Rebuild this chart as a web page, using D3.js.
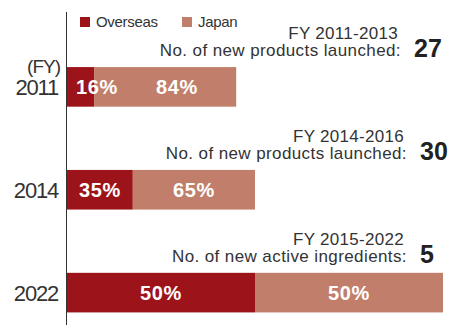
<!DOCTYPE html>
<html>
<head>
<meta charset="utf-8">
<script src="https://cdn.jsdelivr.net/npm/d3@7"></script>
<style>
  html, body { margin: 0; padding: 0; background: #fff; }
  svg { display: block; font-family: "Liberation Sans", Arial, Helvetica, sans-serif; }
</style>
</head>
<body>
<div id="chart"></div>
<script>
// Fiscal years shown as rows
const years = ["2011", "2014", "2022"];
// Share of new launches, percent
const overseasShare = [16, 35, 50];
const japanShare = [84, 65, 50];
// Relative bar length of each row
const barLength = [27, 30, 60];
// Annotation for each row
const periodLabels = ["FY 2011-2013", "FY 2014-2016", "FY 2015-2022"];
const countLabels = ["No. of new products launched:", "No. of new products launched:", "No. of new active ingredients:"];
const counts = [27, 30, 5];
const seriesNames = ["Overseas", "Japan"];

const W = 456, H = 325;
const colors = { Overseas: "#9c141a", Japan: "#c17f6b" };
const textColor = "#333";

const svg = d3.select("#chart").append("svg")
  .attr("width", W).attr("height", H);

const x = d3.scaleLinear().domain([0, 60]).range([67, 443]);
const y = d3.scaleBand().domain(years).range([46.5, 333]).paddingInner(0.615).paddingOuter(0.2);

const rows = years.map((yr, i) => ({
  year: yr,
  overseas: overseasShare[i],
  japan: japanShare[i],
  len: barLength[i],
  period: periodLabels[i],
  countLabel: countLabels[i],
  count: counts[i]
}));

// Stacked segments
const segs = [];
rows.forEach(r => {
  const x0 = x(0), total = x(r.len) - x(0);
  const xo = x0 + total * r.overseas / 100;
  segs.push({ row: r, key: "Overseas", v: r.overseas, a: x0, b: xo });
  segs.push({ row: r, key: "Japan", v: r.japan, a: xo, b: x0 + total });
});

svg.append("g").selectAll("rect").data(segs).join("rect")
  .attr("x", d => d.a)
  .attr("y", d => y(d.row.year))
  .attr("width", d => d.b - d.a)
  .attr("height", y.bandwidth())
  .attr("fill", d => colors[d.key]);

// Percent labels inside the bars
const labelG = svg.append("g")
  .attr("font-weight", "bold").attr("font-size", 20).attr("letter-spacing", 0.6)
  .attr("fill", "#fff");
rows.forEach(r => {
  const s = segs.filter(d => d.row === r);
  const o = s[0], j = s[1];
  const cy = y(r.year) + y.bandwidth() / 2 + 7.5;
  const narrow = (o.b - o.a) < 50;
  const oText = labelG.append("text")
    .attr("y", cy).text(o.v + "%");
  let oRight;
  if (narrow) {
    oText.attr("x", o.a + 9).attr("text-anchor", "start");
    oRight = o.a + 9 + oText.node().getComputedTextLength();
  } else {
    oText.attr("x", (o.a + o.b) / 2).attr("text-anchor", "middle");
    oRight = o.b;
  }
  const jStart = Math.max(j.a, oRight);
  labelG.append("text")
    .attr("x", (jStart + j.b) / 2).attr("y", cy)
    .attr("text-anchor", "middle").text(j.v + "%");
});

// Year axis on the left
const axis = svg.append("g").attr("transform", `translate(${x(0)},0)`)
  .call(d3.axisLeft(y).tickSize(0).tickPadding(9));
axis.select(".domain").remove();
axis.selectAll("text")
  .attr("font-size", 22).attr("fill", textColor)
  .attr("font-family", "Liberation Sans, Arial, sans-serif")
  .attr("letter-spacing", -1.2)
  .attr("dy", "0.36em");
svg.append("line")
  .attr("x1", x(0) - 0.5).attr("x2", x(0) - 0.5)
  .attr("y1", 12).attr("y2", H)
  .attr("stroke", "#333").attr("stroke-width", 1);

svg.append("text")
  .attr("x", 60).attr("y", 73).attr("text-anchor", "end")
  .attr("font-size", 19).attr("letter-spacing", -1).attr("fill", textColor)
  .text("(FY)");

// Annotations above each bar
const ann = svg.append("g").attr("fill", textColor);
rows.forEach((r, i) => {
  const top = y(r.year);
  const rightEdge = i === 0 ? 401 : 407;
  ann.append("text")
    .attr("x", rightEdge - 3).attr("y", top - 28)
    .attr("text-anchor", "end").attr("font-size", 17).attr("letter-spacing", 0.3)
    .text(r.period);
  ann.append("text")
    .attr("x", rightEdge).attr("y", top - 11)
    .attr("text-anchor", "end").attr("font-size", 17).attr("letter-spacing", 0.4)
    .text(r.countLabel);
  ann.append("text")
    .attr("x", rightEdge + 13).attr("y", top - 10)
    .attr("text-anchor", "start").attr("font-size", 25).attr("font-weight", "bold")
    .attr("fill", "#222")
    .text(r.count);
});

// Legend
const legend = svg.append("g").attr("font-size", 15).attr("fill", textColor);
const legendX = [80, 182];
seriesNames.forEach((name, i) => {
  legend.append("rect")
    .attr("x", legendX[i]).attr("y", 17).attr("width", 10).attr("height", 10)
    .attr("fill", colors[name]);
  legend.append("text")
    .attr("x", legendX[i] + 16).attr("y", 27)
    .attr("letter-spacing", -0.3)
    .text(name);
});
</script>
</body>
</html>
